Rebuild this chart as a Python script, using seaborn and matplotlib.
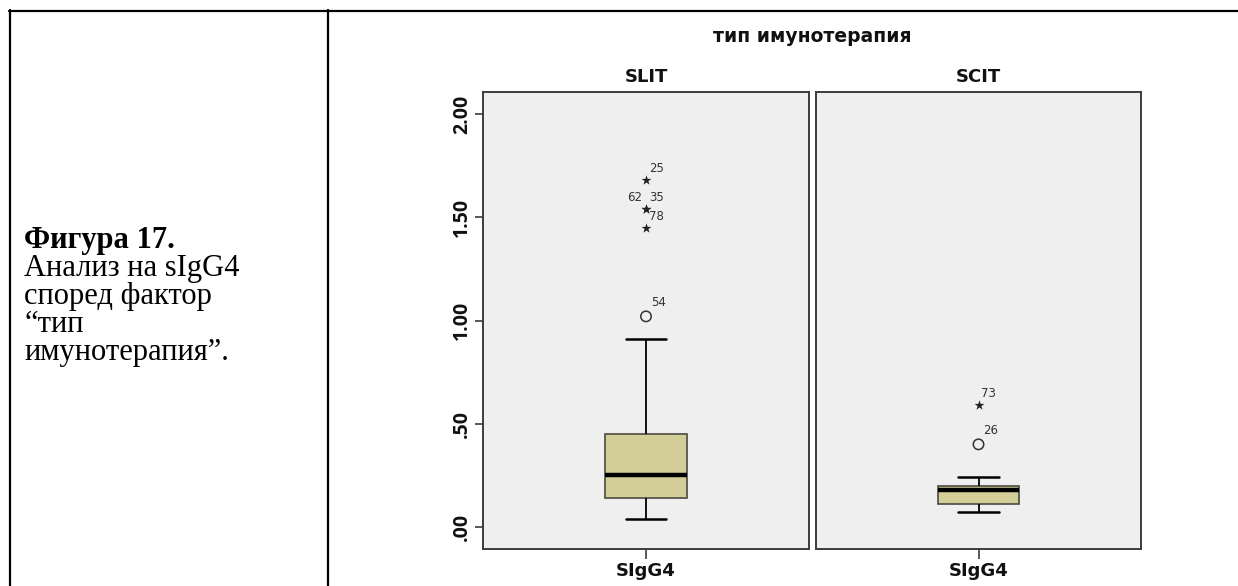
import matplotlib
matplotlib.use("Agg")
import matplotlib.pyplot as plt
from matplotlib.lines import Line2D
import seaborn as sns
import pandas as pd

# ---- data -------------------------------------------------------------
groups = ["SLIT", "SCIT"]
variable = "SIgG4"
factor_title = "тип имунотерапия"

# five-number summaries: lower whisker, Q1, median, Q3, upper whisker
slit_summary = [0.04, 0.14, 0.25, 0.45, 0.91]
scit_summary = [0.07, 0.11, 0.18, 0.20, 0.24]

# outlying cases (value, case number, marker: o = outlier, * = extreme)
slit_outliers = [1.02, 1.45, 1.54, 1.54, 1.68]
slit_case_ids = ["54", "78", "35", "62", "25"]
slit_kinds = ["o", "*", "*", "*", "*"]
slit_label_side = ["right", "right", "right", "left", "right"]

scit_outliers = [0.40, 0.59]
scit_case_ids = ["26", "73"]
scit_kinds = ["o", "*"]
scit_label_side = ["right", "right"]

y_ticks = [0.0, 0.5, 1.0, 1.5, 2.0]
y_tick_labels = [".00", ".50", "1.00", "1.50", "2.00"]

caption_bold = "Фигура 17."
caption_lines = ["Анализ на sIgG4", "според фактор", "“тип", "имунотерапия”."]

# ---- style ------------------------------------------------------------
sns.set_theme(style="white")
plt.rcParams["font.family"] = ["DejaVu Sans"]

W, H = 1238, 586
fig = plt.figure(figsize=(W / 100, H / 100), dpi=100)
fig.patch.set_facecolor("white")

BOX_FILL = "#D3CE98"
PANEL_BG = "#EFEFEF"
FRAME = "#3C3C3C"
SANS_BOLD = ["DejaVu Sans"]
TICK_FONT = ["Open Sans", "DejaVu Sans"]


def fx(px):
    return px / W


def fy(py):
    return 1 - py / H


# panel rectangles in pixels: left, top, right, bottom
panels = [(483, 92, 809, 549), (816, 92, 1141, 549)]
axes = []
for l, t, r, b in panels:
    axes.append(fig.add_axes([fx(l), fy(b), fx(r - l), (b - t) / H]))

panel_data = [
    (slit_summary, slit_outliers, slit_case_ids, slit_kinds, slit_label_side),
    (scit_summary, scit_outliers, scit_case_ids, scit_kinds, scit_label_side),
]

for i, (ax, group, pdata) in enumerate(zip(axes, groups, panel_data)):
    summary, out_vals, out_ids, out_kinds, sides = pdata
    df = pd.DataFrame({"variable": [variable] * len(summary), "value": summary})
    sns.boxplot(
        data=df, x="variable", y="value", ax=ax,
        whis=(0, 100), width=0.25, showfliers=False, saturation=1,
        color=BOX_FILL, linewidth=1.2,
        boxprops=dict(facecolor=BOX_FILL, edgecolor="#4A4A40", linewidth=1.2),
        medianprops=dict(color="black", linewidth=3.2),
        whiskerprops=dict(color="black", linewidth=1.3),
        capprops=dict(color="black", linewidth=1.8),
    )

    # outlying cases, circles and stars drawn separately
    odf = pd.DataFrame({"variable": [variable] * len(out_vals),
                        "value": out_vals, "kind": out_kinds,
                        "case": out_ids, "side": sides})
    circ = odf[odf["kind"] == "o"]
    star = odf[odf["kind"] == "*"]
    if len(circ):
        sns.stripplot(data=circ, x="variable", y="value", ax=ax, jitter=False,
                      marker="o", size=7.5, color="black", linewidth=1.1,
                      edgecolor="#333333", zorder=5)
        ax.collections[-1].set_facecolor("none")
    if len(star):
        sns.stripplot(data=star, x="variable", y="value", ax=ax, jitter=False,
                      marker="*", size=7.5, color="#222222", linewidth=0,
                      zorder=5)

    for _, row in odf.iterrows():
        dx = 5 if row["kind"] == "o" else 3
        dy = 7 if row["kind"] == "o" else 5
        if row["side"] == "left":
            dx = -4
        ax.annotate(row["case"], xy=(0, row["value"]),
                    xytext=(dx * 0.72, dy * 0.72), textcoords="offset points",
                    ha="left" if row["side"] == "right" else "right",
                    va="bottom", fontsize=8.5, color="#333333",
                    family=["DejaVu Sans"])

    ax.set_facecolor(PANEL_BG)
    ax.set_xlim(-0.5, 0.5)
    ax.set_ylim(-0.107, 2.107)
    ax.set_xlabel("")
    ax.set_ylabel("")
    for sp in ax.spines.values():
        sp.set_visible(True)
        sp.set_color(FRAME)
        sp.set_linewidth(1.4)
    ax.set_title(group, fontsize=13, fontweight="bold", pad=7,
                 color="#111111", family=SANS_BOLD)
    ax.tick_params(axis="x", length=7, width=1.2, color=FRAME,
                   labelsize=13, pad=2, bottom=True)
    for lab in ax.get_xticklabels():
        lab.set_fontweight("bold")
        lab.set_family(SANS_BOLD)
        lab.set_color("#111111")
    if i == 0:
        ax.set_yticks(y_ticks)
        ax.set_yticklabels(y_tick_labels, rotation=90, va="center",
                           fontsize=14, fontweight="bold", family=TICK_FONT,
                           color="#111111")
        ax.tick_params(axis="y", length=6, width=1.2, color=FRAME,
                       pad=2, left=True)
    else:
        ax.set_yticks([])

fig.text(fx(812), fy(37), factor_title, ha="center", va="center",
         fontsize=13.5, fontweight="bold", color="#111111", family=SANS_BOLD)

# table rules around the caption cell
lw = 1.6
fig.add_artist(Line2D([fx(9), 1.0], [fy(10.5), fy(10.5)],
                      transform=fig.transFigure, color="black", lw=lw))
for xpx in (10, 328):
    fig.add_artist(Line2D([fx(xpx), fx(xpx)], [fy(10), 0.0],
                          transform=fig.transFigure, color="black", lw=lw))

# caption
serif = ["Liberation Serif", "DejaVu Serif"]
base_y = 248
step = 28
cap_size = 22
fig.text(fx(24), fy(base_y), caption_bold, ha="left", va="baseline",
         fontsize=cap_size, fontweight="bold", family=serif, color="black")
for k, line in enumerate(caption_lines, start=1):
    fig.text(fx(24), fy(base_y + k * step), line, ha="left", va="baseline",
             fontsize=cap_size, family=serif, color="black")

fig.savefig("out.png", dpi=100, facecolor="white")
